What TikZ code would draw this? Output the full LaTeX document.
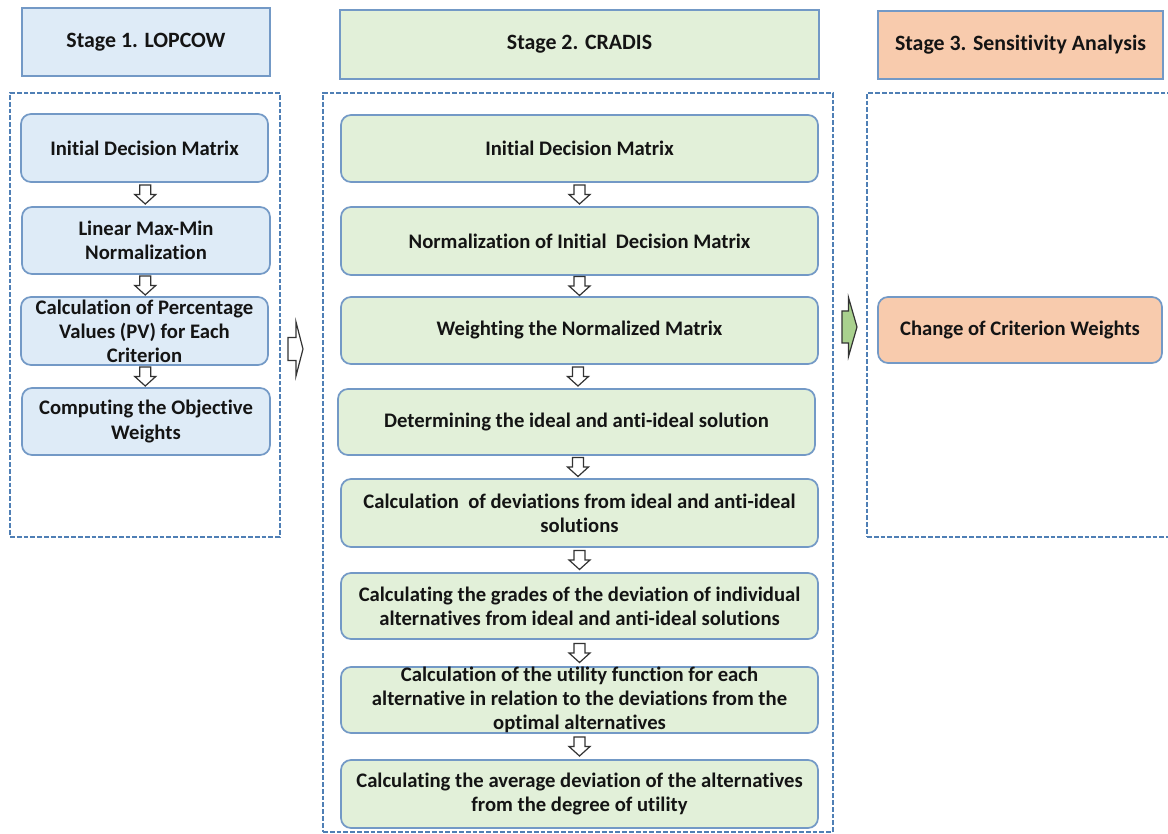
\documentclass[tikz,border=0pt]{standalone}
\usepackage{fontspec}
\setmainfont{Carlito}[Ligatures=NoCommon]
\usetikzlibrary{calc}
\definecolor{bfill}{HTML}{DEEBF7}
\definecolor{gfill}{HTML}{E2F0D9}
\definecolor{ofill}{HTML}{F8CBAD}
\definecolor{bord}{HTML}{7399C6}
\definecolor{dashc}{HTML}{4F7FB5}
\definecolor{txt}{HTML}{141414}
\definecolor{arrc}{HTML}{333333}
\definecolor{garr}{HTML}{A9D18E}
\tikzset{
  darr/.pic={\draw[fill=white, draw=arrc, line width=0.9pt, line join=miter]
    (-5.5,-9.5)--(-5.5,0)--(-10.5,0)--(0,9.5)--(10.5,0)--(5.5,0)--(5.5,-9.5)--cycle;},
  rarrw/.pic={\draw[fill=white, draw=arrc, line width=0.9pt, line join=miter]
    (-7.5,-11.5)--(0.5,-11.5)--(0.5,-27)--(7.5,0)--(0.5,27)--(0.5,11.5)--(-7.5,11.5)--cycle;},
  rarrg/.pic={\draw[fill=garr, draw=arrc, line width=0.9pt, line join=miter]
    (-7.5,-16)--(-1,-16)--(-1,-29.5)--(7.5,0)--(-1,29.5)--(-1,16)--(-7.5,16)--cycle;}
}
\begin{document}
\begin{tikzpicture}[x=0.75pt,y=-0.75pt,
  every node/.style={font=\bfseries\fontsize{15.5}{18}\selectfont, text=txt},
  sz/.style 2 args={minimum width=#1*0.75pt, minimum height=#2*0.75pt},
  stagebox/.style={draw=bord, line width=1.3pt, inner sep=0pt, align=center},
  header/.style={stagebox, font=\bfseries\fontsize{16.4}{19}\selectfont},
  procbox/.style={stagebox, rounded corners=7.5pt},
  container/.style={draw=dashc, line width=1.9pt, dash pattern=on 3.6pt off 1.5pt, inner sep=0pt}]
\useasboundingbox (0,0) rectangle (1168,834);

% headers
\node[header, fill=bfill, sz={248}{68}] (H1) at (146,42) {Stage 1. LOPCOW};
\node[header, fill=gfill, sz={479}{69}] (H2) at (579.5,44.5) {Stage 2. CRADIS};
\node[header, fill=ofill, sz={285}{68}] (H3) at (1020.5,45) {Stage 3. Sensitivity Analysis};

% containers
\node[container, sz={270}{444}] (C1) at (145,315) {};
\node[container, sz={510}{739}] (C2) at (578,462.5) {};
\node[container, sz={308}{444}] (C3) at (1021,315) {};

% stage 1 boxes
\node[procbox, fill=bfill, sz={247}{68}] (L1) at (144.5,148) {Initial Decision Matrix};
\node[procbox, fill=bfill, sz={248}{67}] (L2) at (146,240.5) {Linear Max-Min\\Normalization};
\node[procbox, fill=bfill, sz={247}{68}] (L3) at (144.5,331) {Calculation of Percentage\\Values (PV) for Each\\Criterion};
\node[procbox, fill=bfill, sz={248}{67}] (L4) at (146,421.5) {Computing the Objective\\Weights};

% stage 2 boxes
\node[procbox, fill=gfill, sz={477}{67}] (M1) at (579.5,148.5) {Initial Decision Matrix};
\node[procbox, fill=gfill, sz={477}{68}] (M2) at (579.5,241) {Normalization of Initial~ Decision Matrix};
\node[procbox, fill=gfill, sz={477}{67}] (M3) at (579.5,330.5) {Weighting the Normalized Matrix};
\node[procbox, fill=gfill, sz={477}{66}] (M4) at (576.5,422) {Determining the ideal and anti-ideal solution};
\node[procbox, fill=gfill, sz={477}{68}] (M5) at (579.5,513) {Calculation~ of deviations from ideal and anti-ideal\\solutions};
\node[procbox, fill=gfill, sz={477}{66}] (M6) at (579.5,606) {Calculating the grades of the deviation of individual\\alternatives from ideal and anti-ideal solutions};
\node[procbox, fill=gfill, sz={477}{66}] (M7) at (579.5,700) {Calculation of the utility function for each\\alternative in relation to the deviations from the\\optimal alternatives};
\node[procbox, fill=gfill, sz={477}{68}] (M8) at (579.5,794) {Calculating the average deviation of the alternatives\\from the degree of utility};

% stage 3 box
\node[procbox, fill=ofill, sz={284}{66}] (R1) at (1020,330) {Change of Criterion Weights};

% down arrows stage 1
\pic at ($(L1.south)!0.5!(L2.north)$) {darr};
\pic at ($(L2.south)!0.5!(L3.north)$) {darr};
\pic at ($(L3.south)!0.5!(L4.north)$) {darr};

% down arrows stage 2
\pic at ($(M1.south)!0.5!(M2.north)$) {darr};
\pic at ($(M2.south)!0.5!(M3.north)$) {darr};
\pic at ($(M3.south)!0.5!(M4.north)$) {darr};
\pic at ($(M4.south)!0.5!(M5.north)$) {darr};
\pic at ($(M5.south)!0.5!(M6.north)$) {darr};
\pic at ($(M6.south)!0.5!(M7.north)$) {darr};
\pic at ($(M7.south)!0.5!(M8.north)$) {darr};

% stage transitions
\coordinate (T1) at (295.5,349);
\coordinate (T2) at (849.5,327);
\pic at (T1) {rarrw};
\pic at (T2) {rarrg};
\end{tikzpicture}
\end{document}
